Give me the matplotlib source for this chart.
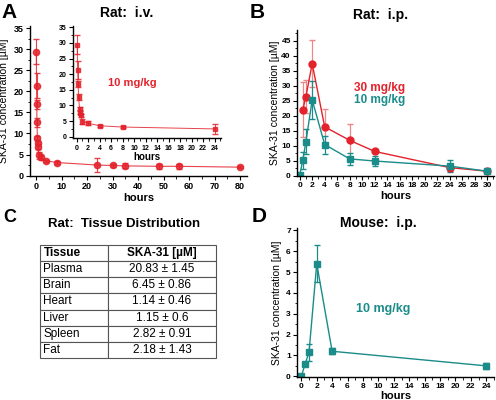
import matplotlib
matplotlib.use('Agg')
import matplotlib.pyplot as plt
from matplotlib.ticker import MultipleLocator

plt.rcParams['font.family'] = ['Liberation Sans', 'DejaVu Sans']

# cores
red = '#e3222b'
teal = '#1a8c8a'

# A: rato i.v. 10 mg/kg
iv_t = [0.083, 0.167, 0.25, 0.33, 0.5, 0.58, 0.75, 1, 2, 4, 8, 24, 30, 35, 48, 56, 80]
iv_c = [29.4, 21.3, 16.9, 12.6, 9.0, 7.7, 6.9, 4.8, 4.3, 3.5, 3.1, 2.5, 2.4, 2.3, 2.2, 2.2, 2.0]
iv_e = [3.0, 3.0, 1.0, 1.0, 0.5, 0.5, 0.5, 0.8, 0.7, 0.3, 0.3, 1.6, 0.3, 0.6, 0.6, 0.6, 0.3]
n_inset = 12

# B: rato i.p.
ip30_t = [0.5, 1, 2, 4, 8, 12, 24, 30]
ip30_c = [22.0, 26.4, 37.4, 16.3, 11.8, 8.1, 2.7, 1.5]
ip30_e = [9.2, 5.5, 7.8, 5.8, 5.6, 0.5, 1.2, 0.3]
ip10_t = [0, 0.5, 1, 2, 4, 8, 12, 24, 30]
ip10_c = [0.1, 5.2, 11.4, 25.3, 10.4, 5.6, 4.9, 3.2, 1.5]
ip10_e = [0, 2.8, 4.2, 6.4, 3.0, 2.0, 1.6, 2.0, 0.3]

# C: tabela
tecidos = ['Plasma', 'Brain', 'Heart', 'Liver', 'Spleen', 'Fat']
valores = ['20.83 \u00b1 1.45', '6.45 \u00b1 0.86', '1.14 \u00b1 0.46',
           '1.15 \u00b1 0.6', '2.82 \u00b1 0.91', '2.18 \u00b1 1.43']

# D: camundongo i.p.
m_t = [0, 0.5, 1, 2, 4, 24]
m_c = [0.0, 0.6, 1.15, 5.4, 1.2, 0.5]
m_e = [0, 0.05, 0.4, 0.9, 0.15, 0.15]

W, H = 496., 400.
fig = plt.figure(figsize=(4.96, 4.0), dpi=100)

def eixo(l, t, r, b):
    return fig.add_axes([l / W, 1 - b / H, (r - l) / W, (b - t) / H])

def estilo(ax, fs=6.5):
    for s in ['top', 'right']:
        ax.spines[s].set_visible(False)
    for s in ['left', 'bottom']:
        ax.spines[s].set_linewidth(1.0)
    ax.tick_params(which='major', direction='out', length=3, width=0.8,
                   labelsize=fs, pad=1.5)
    ax.tick_params(which='minor', direction='out', length=1.8, width=0.6)
    for lab in ax.get_xticklabels() + ax.get_yticklabels():
        lab.set_fontweight('bold')

def txt(x, y, s, **kw):
    fig.text(x / W, 1 - y / H, s, **kw)

ylab = u'SKA-31 concentration [\u00b5M]'

# ---- A
ax = eixo(30, 26, 247, 176)
ax.errorbar(iv_t, iv_c, yerr=iv_e, color=red, marker='o', ms=4.5, lw=0.8,
            ecolor=red, elinewidth=0.8, capsize=2.5, alpha=0.85)
ax.set_xlim(-2.4, 82.7)
ax.set_ylim(-0.1, 35.5)
ax.xaxis.set_major_locator(MultipleLocator(10))
ax.xaxis.set_minor_locator(MultipleLocator(5))
ax.yaxis.set_major_locator(MultipleLocator(5))
ax.yaxis.set_minor_locator(MultipleLocator(2.5))
ax.set_xlabel('hours', fontsize=8, fontweight='bold', labelpad=1)
ax.set_ylabel(ylab, fontsize=7.5, labelpad=3)
estilo(ax)

axi = eixo(73, 26, 221, 138.3)
axi.errorbar(iv_t[:n_inset], iv_c[:n_inset], yerr=iv_e[:n_inset], color=red,
             marker='s', ms=3, lw=0.7, ecolor=red, elinewidth=0.7, capsize=2,
             alpha=0.85)
axi.set_xlim(-0.64, 25.1)
axi.set_ylim(-0.5, 35.4)
axi.xaxis.set_major_locator(MultipleLocator(2))
axi.xaxis.set_minor_locator(MultipleLocator(1))
axi.yaxis.set_major_locator(MultipleLocator(5))
axi.yaxis.set_minor_locator(MultipleLocator(2.5))
axi.set_xlabel('hours', fontsize=7, fontweight='bold', labelpad=0)
estilo(axi, fs=5)
axi.patch.set_alpha(0)
txt(108, 83, '10 mg/kg', color=red, fontsize=8, fontweight='bold', va='center')

# ---- B
ax = eixo(297, 30, 494, 176)
ax.errorbar(ip30_t, ip30_c, yerr=ip30_e, color=red, marker='o', ms=5, lw=1,
            ecolor='#ee8888', elinewidth=0.9, capsize=2.5)
ax.errorbar(ip10_t, ip10_c, yerr=ip10_e, color=teal, marker='s', ms=5, lw=1,
            ecolor=teal, elinewidth=0.9, capsize=2.5)
ax.set_xlim(-0.43, 31.1)
ax.set_ylim(-0.1, 48.6)
ax.xaxis.set_major_locator(MultipleLocator(2))
ax.xaxis.set_minor_locator(MultipleLocator(1))
ax.yaxis.set_major_locator(MultipleLocator(5))
ax.yaxis.set_minor_locator(MultipleLocator(2.5))
ax.set_xlabel('hours', fontsize=8, fontweight='bold', labelpad=1)
ax.set_ylabel(ylab, fontsize=7.5, labelpad=1)
estilo(ax, fs=6)
txt(354, 88, '30 mg/kg', color=red, fontsize=8.5, fontweight='bold', va='center')
txt(354, 100, '10 mg/kg', color=teal, fontsize=8.5, fontweight='bold', va='center')

# ---- C
axc = fig.add_axes([0, 0, 1, 0.5])
axc.axis('off')
celulas = [['Tissue', u'SKA-31 [\u00b5M]']] + [[a, b] for a, b in zip(tecidos, valores)]
tab = axc.table(cellText=celulas, colWidths=[68, 108],
                bbox=[40 / W, (400 - 358) / 200., 176 / W, 113 / 200.])
tab.auto_set_font_size(False)
for (r, c), cel in tab.get_celld().items():
    cel.set_linewidth(0.8)
    cel.set_edgecolor('#555555')
    t = cel.get_text()
    t.set_fontsize(8.5)
    if c == 0:
        cel.set_text_props(ha='left')
        cel.PAD = 0.05
    else:
        cel.set_text_props(ha='center')
    if r == 0:
        t.set_fontweight('bold')
txt(124, 224, 'Rat:  Tissue Distribution', fontsize=9.5, fontweight='bold',
    ha='center', va='center')

# ---- D
ax = eixo(297, 228.3, 494, 376.7)
ax.errorbar(m_t, m_c, yerr=m_e, color=teal, marker='s', ms=5, lw=1,
            ecolor=teal, elinewidth=0.9, capsize=2.5)
ax.set_xlim(-0.56, 25)
ax.set_ylim(-0.02, 7.1)
ax.xaxis.set_major_locator(MultipleLocator(2))
ax.xaxis.set_minor_locator(MultipleLocator(1))
ax.yaxis.set_major_locator(MultipleLocator(1))
ax.yaxis.set_minor_locator(MultipleLocator(0.5))
ax.set_xlabel('hours', fontsize=8, fontweight='bold', labelpad=1)
ax.set_ylabel(ylab, fontsize=7.5, labelpad=3)
estilo(ax, fs=6)
txt(356, 309, '10 mg/kg', color=teal, fontsize=9, fontweight='bold', va='center')

# titulos e letras
txt(127, 13, 'Rat:  i.v.', fontsize=10, fontweight='bold', ha='center', va='center')
txt(381, 15, 'Rat:  i.p.', fontsize=10, fontweight='bold', ha='center', va='center')
txt(378, 223, 'Mouse:  i.p.', fontsize=10, fontweight='bold', ha='center', va='center')
txt(1, 12, 'A', fontsize=15, fontweight='bold', va='center')
txt(250, 12, 'B', fontsize=15, fontweight='bold', va='center')
txt(3, 217, 'C', fontsize=13, fontweight='bold', va='center')
txt(252, 216, 'D', fontsize=15, fontweight='bold', va='center')

fig.savefig('out.png', dpi=100)
